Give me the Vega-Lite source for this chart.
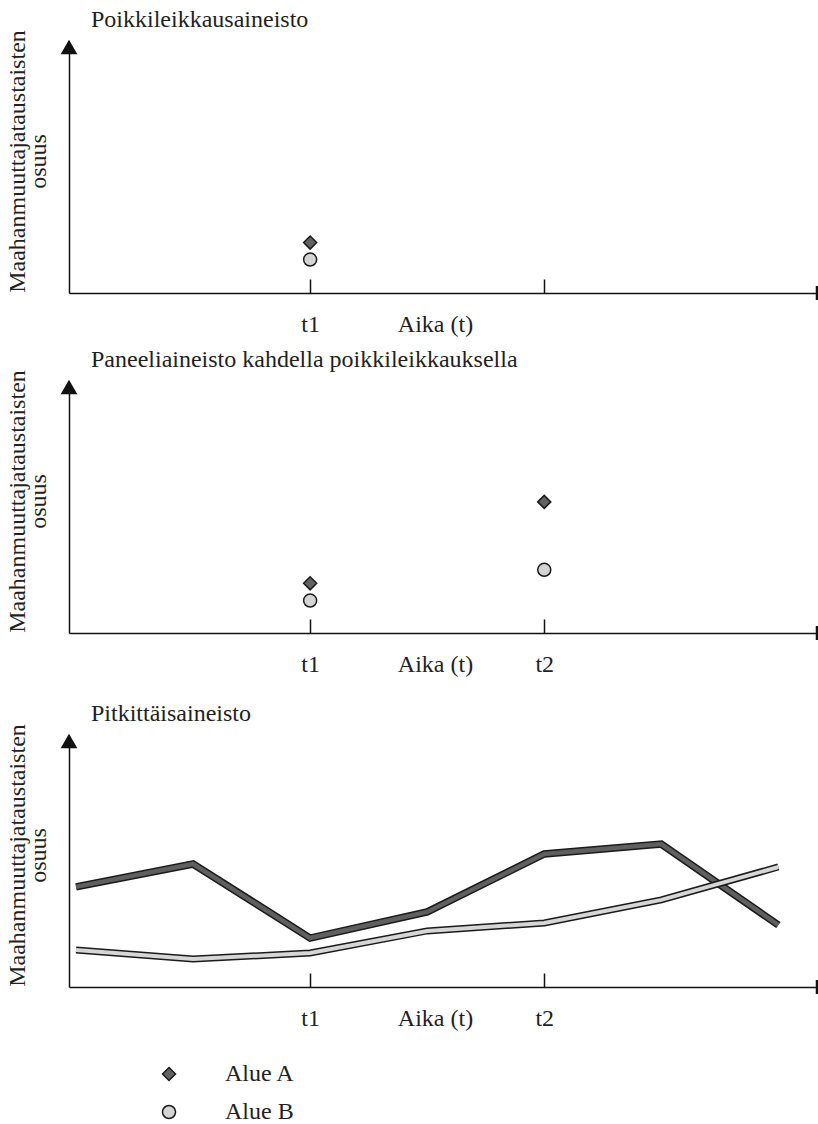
{
  "$schema": "https://vega.github.io/schema/vega-lite/v6.json",
  "padding": {"left": 4, "top": 7, "right": 0, "bottom": 0},
  "background": "white",
  "config": {
    "font": "Liberation Serif",
    "view": {"stroke": null},
    "axis": {"grid": false, "domainColor": "#111111", "domainWidth": 1.5, "tickColor": "#111111", "tickWidth": 1.5, "labelFont": "Liberation Serif", "titleFont": "Liberation Serif", "labelColor": "#231f20", "titleColor": "#231f20", "titleFontWeight": "normal"},
    "title": {"font": "Liberation Serif", "fontSize": 24, "fontWeight": "normal", "color": "#231f20", "anchor": "start", "frame": "group", "dx": 22, "offset": -2},
    "legend": {"orient": "none", "legendX": 88, "legendY": 1015, "labelFont": "Liberation Serif", "labelFontSize": 24, "labelColor": "#231f20", "symbolSize": 170, "symbolStrokeWidth": 1.5, "labelOffset": 44, "rowPadding": 14, "direction": "vertical"}
  },
  "data": {"values": [
    {"panel": "p1", "alue": "Alue A", "t": 2, "v": 20.5},
    {"panel": "p1", "alue": "Alue B", "t": 2, "v": 13.6},
    {"panel": "p2", "alue": "Alue A", "t": 2, "v": 20.2},
    {"panel": "p2", "alue": "Alue B", "t": 2, "v": 13.2},
    {"panel": "p2", "alue": "Alue A", "t": 4, "v": 53.3},
    {"panel": "p2", "alue": "Alue B", "t": 4, "v": 25.7},
    {"panel": "p3", "alue": "Alue A", "t": 0, "v": 40.7},
    {"panel": "p3", "alue": "Alue A", "t": 1, "v": 50.0},
    {"panel": "p3", "alue": "Alue A", "t": 2, "v": 19.9},
    {"panel": "p3", "alue": "Alue A", "t": 3, "v": 30.5},
    {"panel": "p3", "alue": "Alue A", "t": 4, "v": 54.1},
    {"panel": "p3", "alue": "Alue A", "t": 5, "v": 58.1},
    {"panel": "p3", "alue": "Alue A", "t": 6, "v": 25.2},
    {"panel": "p3", "alue": "Alue B", "t": 0, "v": 15.0},
    {"panel": "p3", "alue": "Alue B", "t": 1, "v": 11.4},
    {"panel": "p3", "alue": "Alue B", "t": 2, "v": 13.8},
    {"panel": "p3", "alue": "Alue B", "t": 3, "v": 22.8},
    {"panel": "p3", "alue": "Alue B", "t": 4, "v": 26.0},
    {"panel": "p3", "alue": "Alue B", "t": 5, "v": 35.4},
    {"panel": "p3", "alue": "Alue B", "t": 6, "v": 48.8}
  ]},
  "spacing": 25,
  "vconcat": [
    {
      "spacing": 11,
      "vconcat": [
        {
          "width": 748, "height": 246,
          "title": {"text": "Poikkileikkausaineisto"},
          "encoding": {
            "x": {"field": "t", "type": "quantitative", "scale": {"domain": [-0.06, 6.33], "nice": false, "zero": false},
              "axis": {"values": [2, 4], "labelExpr": "datum.value == 2 ? 't1' : ''", "tickSize": -14, "labelPadding": 52, "labelBaseline": "alphabetic", "labelFontSize": 24, "labelOverlap": false, "labelFlush": false, "title": "Aika (t)", "titleFontSize": 24, "titleX": 366, "titleY": 38, "titleAlign": "center", "titleBaseline": "alphabetic"}},
            "y": {"field": "v", "type": "quantitative", "scale": {"domain": [0, 100], "nice": false},
              "axis": {"ticks": false, "labels": false, "title": ["Maahanmuuttajataustaisten", "osuus"], "titleFontSize": 24, "titleLineHeight": 21, "titleX": -45, "titleY": 114, "titleAlign": "center", "titleBaseline": "alphabetic"}}
          },
          "layer": [
            {"transform": [{"filter": "datum.panel == 'p1'"}],
              "mark": {"type": "point", "filled": true, "size": 170, "strokeWidth": 1.5, "opacity": 1},
              "encoding": {
                "shape": {"field": "alue", "type": "nominal", "scale": {"domain": ["Alue A", "Alue B"], "range": ["diamond", "circle"]}, "legend": {"title": null}},
                "fill": {"field": "alue", "type": "nominal", "scale": {"domain": ["Alue A", "Alue B"], "range": ["#626262", "#d4d4d4"]}, "legend": {"title": null}},
                "stroke": {"field": "alue", "type": "nominal", "scale": {"domain": ["Alue A", "Alue B"], "range": ["#1a1a1a", "#1a1a1a"]}, "legend": {"title": null}}
              }},
            {"transform": [{"filter": "datum.panel == 'p1' && datum.alue == 'Alue A'"}],
              "mark": {"type": "point", "shape": "triangle-up", "filled": true, "color": "#111111", "size": 280, "opacity": 1, "clip": false},
              "encoding": {"x": {"datum": -0.06, "type": "quantitative"}, "y": {"datum": 100, "type": "quantitative"}}},
            {"transform": [{"filter": "datum.panel == 'p1' && datum.alue == 'Alue A'"}],
              "mark": {"type": "tick", "orient": "vertical", "color": "#111111", "thickness": 2.5, "size": 14, "opacity": 1, "clip": false},
              "encoding": {"x": {"datum": 6.33, "type": "quantitative"}, "y": {"datum": 0, "type": "quantitative"}}}
          ]
        },
        {
          "width": 748, "height": 246,
          "title": {"text": "Paneeliaineisto kahdella poikkileikkauksella"},
          "encoding": {
            "x": {"field": "t", "type": "quantitative", "scale": {"domain": [-0.06, 6.33], "nice": false, "zero": false},
              "axis": {"values": [2, 4], "labelExpr": "datum.value == 2 ? 't1' : 't2'", "tickSize": -14, "labelPadding": 52, "labelBaseline": "alphabetic", "labelFontSize": 24, "labelOverlap": false, "labelFlush": false, "title": "Aika (t)", "titleFontSize": 24, "titleX": 366, "titleY": 38, "titleAlign": "center", "titleBaseline": "alphabetic"}},
            "y": {"field": "v", "type": "quantitative", "scale": {"domain": [0, 100], "nice": false},
              "axis": {"ticks": false, "labels": false, "title": ["Maahanmuuttajataustaisten", "osuus"], "titleFontSize": 24, "titleLineHeight": 21, "titleX": -45, "titleY": 114, "titleAlign": "center", "titleBaseline": "alphabetic"}}
          },
          "layer": [
            {"transform": [{"filter": "datum.panel == 'p2'"}],
              "mark": {"type": "point", "filled": true, "size": 170, "strokeWidth": 1.5, "opacity": 1},
              "encoding": {
                "shape": {"field": "alue", "type": "nominal", "scale": {"domain": ["Alue A", "Alue B"], "range": ["diamond", "circle"]}, "legend": {"title": null}},
                "fill": {"field": "alue", "type": "nominal", "scale": {"domain": ["Alue A", "Alue B"], "range": ["#626262", "#d4d4d4"]}, "legend": {"title": null}},
                "stroke": {"field": "alue", "type": "nominal", "scale": {"domain": ["Alue A", "Alue B"], "range": ["#1a1a1a", "#1a1a1a"]}, "legend": {"title": null}}
              }},
            {"transform": [{"filter": "datum.panel == 'p2' && datum.alue == 'Alue A' && datum.t == 2"}],
              "mark": {"type": "point", "shape": "triangle-up", "filled": true, "color": "#111111", "size": 280, "opacity": 1, "clip": false},
              "encoding": {"x": {"datum": -0.06, "type": "quantitative"}, "y": {"datum": 100, "type": "quantitative"}}},
            {"transform": [{"filter": "datum.panel == 'p2' && datum.alue == 'Alue A' && datum.t == 2"}],
              "mark": {"type": "tick", "orient": "vertical", "color": "#111111", "thickness": 2.5, "size": 14, "opacity": 1, "clip": false},
              "encoding": {"x": {"datum": 6.33, "type": "quantitative"}, "y": {"datum": 0, "type": "quantitative"}}}
          ]
        }
      ]
    },
    {
      "width": 748, "height": 246,
      "title": {"text": "Pitkittäisaineisto"},
      "encoding": {
        "x": {"field": "t", "type": "quantitative", "scale": {"domain": [-0.06, 6.33], "nice": false, "zero": false},
          "axis": {"values": [2, 4], "labelExpr": "datum.value == 2 ? 't1' : 't2'", "tickSize": -14, "labelPadding": 52, "labelBaseline": "alphabetic", "labelFontSize": 24, "labelOverlap": false, "labelFlush": false, "title": "Aika (t)", "titleFontSize": 24, "titleX": 366, "titleY": 38, "titleAlign": "center", "titleBaseline": "alphabetic"}},
        "y": {"field": "v", "type": "quantitative", "scale": {"domain": [0, 100], "nice": false},
          "axis": {"ticks": false, "labels": false, "title": ["Maahanmuuttajataustaisten", "osuus"], "titleFontSize": 24, "titleLineHeight": 21, "titleX": -45, "titleY": 114, "titleAlign": "center", "titleBaseline": "alphabetic"}}
      },
      "layer": [
        {"transform": [{"filter": "datum.panel == 'p3' && datum.alue == 'Alue A'"}], "mark": {"type": "line", "stroke": "#1a1a1a", "strokeWidth": 7.5, "strokeJoin": "miter", "strokeCap": "butt"}, "encoding": {}},
        {"transform": [{"filter": "datum.panel == 'p3' && datum.alue == 'Alue A'"}], "mark": {"type": "line", "stroke": "#5f5f5f", "strokeWidth": 4.5, "strokeJoin": "miter", "strokeCap": "butt"}, "encoding": {}},
        {"transform": [{"filter": "datum.panel == 'p3' && datum.alue == 'Alue B'"}], "mark": {"type": "line", "stroke": "#1a1a1a", "strokeWidth": 7, "strokeJoin": "miter", "strokeCap": "butt"}, "encoding": {}},
        {"transform": [{"filter": "datum.panel == 'p3' && datum.alue == 'Alue B'"}], "mark": {"type": "line", "stroke": "#d6d6d6", "strokeWidth": 4, "strokeJoin": "miter", "strokeCap": "butt"}, "encoding": {}},
        {"transform": [{"filter": "datum.panel == 'p3' && datum.alue == 'Alue A' && datum.t == 0"}],
          "mark": {"type": "point", "shape": "triangle-up", "filled": true, "color": "#111111", "size": 280, "opacity": 1, "clip": false},
          "encoding": {"x": {"datum": -0.06, "type": "quantitative"}, "y": {"datum": 100, "type": "quantitative"}}},
        {"transform": [{"filter": "datum.panel == 'p3' && datum.alue == 'Alue A' && datum.t == 0"}],
          "mark": {"type": "tick", "orient": "vertical", "color": "#111111", "thickness": 2.5, "size": 14, "opacity": 1, "clip": false},
          "encoding": {"x": {"datum": 6.33, "type": "quantitative"}, "y": {"datum": 0, "type": "quantitative"}}}
      ]
    }
  ]
}
